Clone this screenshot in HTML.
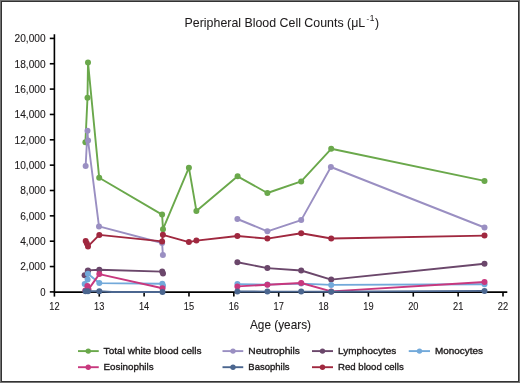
<!DOCTYPE html>
<html><head><meta charset="utf-8"><style>
html,body{margin:0;padding:0;background:#fff;}
body{width:520px;height:383px;overflow:hidden;}
svg{display:block;will-change:transform;}
text{font-family:"Liberation Sans",sans-serif;fill:#1e1b1c;stroke:#1e1b1c;stroke-width:0.35px;}
</style></head><body>
<svg width="520" height="383" viewBox="0 0 520 383">
<rect x="0" y="0" width="520" height="383" fill="#fff"/>

<rect x="0.5" y="0.5" width="519" height="382" fill="none" stroke="#737373" stroke-width="1"/>
<rect x="1.5" y="1.5" width="517" height="380" fill="none" stroke="#333" stroke-width="1"/>
<text x="184.6" y="27" font-size="12.2" style="stroke-width:0.05px" textLength="180.6" lengthAdjust="spacingAndGlyphs">Peripheral Blood Cell Counts (&#956;L</text>
<text x="366.4" y="21.3" font-size="8" style="stroke-width:0.05px">-</text>
<text x="369.8" y="21.4" font-size="8.4" style="stroke-width:0.05px">1</text>
<text x="375.0" y="27" font-size="12.2" style="stroke-width:0.05px">)</text>
<g stroke="#000" stroke-width="1.6" fill="none"><line x1="54.4" y1="34.3" x2="54.4" y2="292.8" /><line x1="54.4" y1="292.1" x2="507.3" y2="292.1" /><line x1="49.8" y1="291.90" x2="54.4" y2="291.90" /><line x1="49.8" y1="266.55" x2="54.4" y2="266.55" /><line x1="49.8" y1="241.20" x2="54.4" y2="241.20" /><line x1="49.8" y1="215.85" x2="54.4" y2="215.85" /><line x1="49.8" y1="190.50" x2="54.4" y2="190.50" /><line x1="49.8" y1="165.15" x2="54.4" y2="165.15" /><line x1="49.8" y1="139.80" x2="54.4" y2="139.80" /><line x1="49.8" y1="114.45" x2="54.4" y2="114.45" /><line x1="49.8" y1="89.10" x2="54.4" y2="89.10" /><line x1="49.8" y1="63.75" x2="54.4" y2="63.75" /><line x1="49.8" y1="38.40" x2="54.4" y2="38.40" /><line x1="54.40" y1="292.1" x2="54.40" y2="296.6" /><line x1="99.26" y1="292.1" x2="99.26" y2="296.6" /><line x1="144.12" y1="292.1" x2="144.12" y2="296.6" /><line x1="188.98" y1="292.1" x2="188.98" y2="296.6" /><line x1="233.84" y1="292.1" x2="233.84" y2="296.6" /><line x1="278.70" y1="292.1" x2="278.70" y2="296.6" /><line x1="323.56" y1="292.1" x2="323.56" y2="296.6" /><line x1="368.42" y1="292.1" x2="368.42" y2="296.6" /><line x1="413.28" y1="292.1" x2="413.28" y2="296.6" /><line x1="458.14" y1="292.1" x2="458.14" y2="296.6" /><line x1="503.00" y1="292.1" x2="503.00" y2="296.6" /></g>
<text x="40.30" y="295.80" font-size="10.9" textLength="5.3" lengthAdjust="spacingAndGlyphs" style="stroke-width:0.12px">0</text><text x="20.20" y="270.45" font-size="10.9" textLength="25.4" lengthAdjust="spacingAndGlyphs" style="stroke-width:0.12px">2,000</text><text x="20.20" y="245.10" font-size="10.9" textLength="25.4" lengthAdjust="spacingAndGlyphs" style="stroke-width:0.12px">4,000</text><text x="20.20" y="219.75" font-size="10.9" textLength="25.4" lengthAdjust="spacingAndGlyphs" style="stroke-width:0.12px">6,000</text><text x="20.20" y="194.40" font-size="10.9" textLength="25.4" lengthAdjust="spacingAndGlyphs" style="stroke-width:0.12px">8,000</text><text x="14.60" y="169.05" font-size="10.9" textLength="31.0" lengthAdjust="spacingAndGlyphs" style="stroke-width:0.12px">10,000</text><text x="14.60" y="143.70" font-size="10.9" textLength="31.0" lengthAdjust="spacingAndGlyphs" style="stroke-width:0.12px">12,000</text><text x="14.60" y="118.35" font-size="10.9" textLength="31.0" lengthAdjust="spacingAndGlyphs" style="stroke-width:0.12px">14,000</text><text x="14.60" y="93.00" font-size="10.9" textLength="31.0" lengthAdjust="spacingAndGlyphs" style="stroke-width:0.12px">16,000</text><text x="14.60" y="67.65" font-size="10.9" textLength="31.0" lengthAdjust="spacingAndGlyphs" style="stroke-width:0.12px">18,000</text><text x="14.60" y="42.30" font-size="10.9" textLength="31.0" lengthAdjust="spacingAndGlyphs" style="stroke-width:0.12px">20,000</text>
<text x="49.25" y="310.4" font-size="11" textLength="10.3" lengthAdjust="spacingAndGlyphs" style="stroke-width:0.12px">12</text><text x="94.11" y="310.4" font-size="11" textLength="10.3" lengthAdjust="spacingAndGlyphs" style="stroke-width:0.12px">13</text><text x="138.97" y="310.4" font-size="11" textLength="10.3" lengthAdjust="spacingAndGlyphs" style="stroke-width:0.12px">14</text><text x="183.83" y="310.4" font-size="11" textLength="10.3" lengthAdjust="spacingAndGlyphs" style="stroke-width:0.12px">15</text><text x="228.69" y="310.4" font-size="11" textLength="10.3" lengthAdjust="spacingAndGlyphs" style="stroke-width:0.12px">16</text><text x="273.55" y="310.4" font-size="11" textLength="10.3" lengthAdjust="spacingAndGlyphs" style="stroke-width:0.12px">17</text><text x="318.41" y="310.4" font-size="11" textLength="10.3" lengthAdjust="spacingAndGlyphs" style="stroke-width:0.12px">18</text><text x="363.27" y="310.4" font-size="11" textLength="10.3" lengthAdjust="spacingAndGlyphs" style="stroke-width:0.12px">19</text><text x="408.13" y="310.4" font-size="11" textLength="10.3" lengthAdjust="spacingAndGlyphs" style="stroke-width:0.12px">20</text><text x="452.99" y="310.4" font-size="11" textLength="10.3" lengthAdjust="spacingAndGlyphs" style="stroke-width:0.12px">21</text><text x="497.85" y="310.4" font-size="11" textLength="10.3" lengthAdjust="spacingAndGlyphs" style="stroke-width:0.12px">22</text>
<text x="250" y="329" font-size="12.1" style="stroke-width:0.1px" textLength="61" lengthAdjust="spacingAndGlyphs">Age (years)</text>
<g stroke="#6aa84b" fill="#6aa84b" stroke-width="1.9" stroke-linejoin="round" stroke-linecap="round"><polyline points="85.40,142.20 87.50,97.80 88.00,62.40 99.20,177.80 162.10,214.60 163.00,229.20 188.90,167.70 196.40,210.90 237.60,176.30 267.40,193.00 301.20,181.40 331.20,148.80 484.50,180.90" fill="none"/><circle cx="85.40" cy="142.20" r="3.0" stroke="none"/><circle cx="87.50" cy="97.80" r="3.0" stroke="none"/><circle cx="88.00" cy="62.40" r="3.0" stroke="none"/><circle cx="99.20" cy="177.80" r="3.0" stroke="none"/><circle cx="162.10" cy="214.60" r="3.0" stroke="none"/><circle cx="163.00" cy="229.20" r="3.0" stroke="none"/><circle cx="188.90" cy="167.70" r="3.0" stroke="none"/><circle cx="196.40" cy="210.90" r="3.0" stroke="none"/><circle cx="237.60" cy="176.30" r="3.0" stroke="none"/><circle cx="267.40" cy="193.00" r="3.0" stroke="none"/><circle cx="301.20" cy="181.40" r="3.0" stroke="none"/><circle cx="331.20" cy="148.80" r="3.0" stroke="none"/><circle cx="484.50" cy="180.90" r="3.0" stroke="none"/></g>
<g stroke="#9a8fc2" fill="#9a8fc2" stroke-width="1.9" stroke-linejoin="round" stroke-linecap="round"><polyline points="85.65,166.00 87.50,130.70 88.05,140.50 99.00,226.40 162.10,243.00 162.90,255.10" fill="none"/><polyline points="237.40,219.00 267.40,231.30 301.20,220.10 330.90,167.00 484.50,227.50" fill="none"/><circle cx="85.65" cy="166.00" r="3.0" stroke="none"/><circle cx="87.50" cy="130.70" r="3.0" stroke="none"/><circle cx="88.05" cy="140.50" r="3.0" stroke="none"/><circle cx="99.00" cy="226.40" r="3.0" stroke="none"/><circle cx="162.10" cy="243.00" r="3.0" stroke="none"/><circle cx="162.90" cy="255.10" r="3.0" stroke="none"/><circle cx="237.40" cy="219.00" r="3.0" stroke="none"/><circle cx="267.40" cy="231.30" r="3.0" stroke="none"/><circle cx="301.20" cy="220.10" r="3.0" stroke="none"/><circle cx="330.90" cy="167.00" r="3.0" stroke="none"/><circle cx="484.50" cy="227.50" r="3.0" stroke="none"/></g>
<g stroke="#6b476b" fill="#6b476b" stroke-width="1.9" stroke-linejoin="round" stroke-linecap="round"><polyline points="84.60,275.30 87.75,271.00 88.00,270.40 99.30,269.70 162.20,271.60 163.00,273.40" fill="none"/><polyline points="237.40,262.30 267.40,268.10 301.20,270.50 331.20,279.60 484.50,263.80" fill="none"/><circle cx="84.60" cy="275.30" r="3.0" stroke="none"/><circle cx="87.75" cy="271.00" r="3.0" stroke="none"/><circle cx="88.00" cy="270.40" r="3.0" stroke="none"/><circle cx="99.30" cy="269.70" r="3.0" stroke="none"/><circle cx="162.20" cy="271.60" r="3.0" stroke="none"/><circle cx="163.00" cy="273.40" r="3.0" stroke="none"/><circle cx="237.40" cy="262.30" r="3.0" stroke="none"/><circle cx="267.40" cy="268.10" r="3.0" stroke="none"/><circle cx="301.20" cy="270.50" r="3.0" stroke="none"/><circle cx="331.20" cy="279.60" r="3.0" stroke="none"/><circle cx="484.50" cy="263.80" r="3.0" stroke="none"/></g>
<g stroke="#72a9da" fill="#72a9da" stroke-width="1.9" stroke-linejoin="round" stroke-linecap="round"><polyline points="84.70,284.00 87.60,279.50 87.90,273.80 99.30,283.10 162.30,283.70 163.00,285.80" fill="none"/><polyline points="237.40,284.10 267.40,284.60 301.20,283.60 331.20,284.90 484.50,284.30" fill="none"/><circle cx="84.70" cy="284.00" r="3.0" stroke="none"/><circle cx="87.60" cy="279.50" r="3.0" stroke="none"/><circle cx="87.90" cy="273.80" r="3.0" stroke="none"/><circle cx="99.30" cy="283.10" r="3.0" stroke="none"/><circle cx="162.30" cy="283.70" r="3.0" stroke="none"/><circle cx="163.00" cy="285.80" r="3.0" stroke="none"/><circle cx="237.40" cy="284.10" r="3.0" stroke="none"/><circle cx="267.40" cy="284.60" r="3.0" stroke="none"/><circle cx="301.20" cy="283.60" r="3.0" stroke="none"/><circle cx="331.20" cy="284.90" r="3.0" stroke="none"/><circle cx="484.50" cy="284.30" r="3.0" stroke="none"/></g>
<g stroke="#c8387e" fill="#c8387e" stroke-width="1.9" stroke-linejoin="round" stroke-linecap="round"><polyline points="85.30,290.50 87.40,286.00 88.50,289.40 99.30,274.10 162.50,288.30" fill="none"/><polyline points="237.40,286.40 267.40,284.80 301.20,283.00 331.20,291.40 484.50,282.00" fill="none"/><circle cx="85.30" cy="290.50" r="3.0" stroke="none"/><circle cx="87.40" cy="286.00" r="3.0" stroke="none"/><circle cx="88.50" cy="289.40" r="3.0" stroke="none"/><circle cx="99.30" cy="274.10" r="3.0" stroke="none"/><circle cx="162.50" cy="288.30" r="3.0" stroke="none"/><circle cx="237.40" cy="286.40" r="3.0" stroke="none"/><circle cx="267.40" cy="284.80" r="3.0" stroke="none"/><circle cx="301.20" cy="283.00" r="3.0" stroke="none"/><circle cx="331.20" cy="291.40" r="3.0" stroke="none"/><circle cx="484.50" cy="282.00" r="3.0" stroke="none"/></g>
<g stroke="#4b668f" fill="#4b668f" stroke-width="1.9" stroke-linejoin="round" stroke-linecap="round"><polyline points="85.50,291.30 88.00,291.30 99.30,291.20 112.00,292.00 162.50,292.00" fill="none"/><polyline points="237.40,291.50 267.40,291.60 301.20,291.60 331.20,291.70 484.50,290.90" fill="none"/><circle cx="85.50" cy="291.30" r="3.0" stroke="none"/><circle cx="88.00" cy="291.30" r="3.0" stroke="none"/><circle cx="99.30" cy="291.20" r="3.0" stroke="none"/><circle cx="162.50" cy="292.00" r="3.0" stroke="none"/><circle cx="237.40" cy="291.50" r="3.0" stroke="none"/><circle cx="267.40" cy="291.60" r="3.0" stroke="none"/><circle cx="301.20" cy="291.60" r="3.0" stroke="none"/><circle cx="331.20" cy="291.70" r="3.0" stroke="none"/><circle cx="484.50" cy="290.90" r="3.0" stroke="none"/></g>
<g stroke="#a0283f" fill="#a0283f" stroke-width="1.9" stroke-linejoin="round" stroke-linecap="round"><polyline points="85.70,240.90 86.90,243.60 88.00,246.40 99.30,234.90 162.10,241.40 162.90,234.80 188.90,242.10 196.40,240.60 237.40,236.00 267.40,238.60 301.20,233.20 331.20,238.50 484.50,235.60" fill="none"/><circle cx="85.70" cy="240.90" r="3.0" stroke="none"/><circle cx="86.90" cy="243.60" r="3.0" stroke="none"/><circle cx="88.00" cy="246.40" r="3.0" stroke="none"/><circle cx="99.30" cy="234.90" r="3.0" stroke="none"/><circle cx="162.10" cy="241.40" r="3.0" stroke="none"/><circle cx="162.90" cy="234.80" r="3.0" stroke="none"/><circle cx="188.90" cy="242.10" r="3.0" stroke="none"/><circle cx="196.40" cy="240.60" r="3.0" stroke="none"/><circle cx="237.40" cy="236.00" r="3.0" stroke="none"/><circle cx="267.40" cy="238.60" r="3.0" stroke="none"/><circle cx="301.20" cy="233.20" r="3.0" stroke="none"/><circle cx="331.20" cy="238.50" r="3.0" stroke="none"/><circle cx="484.50" cy="235.60" r="3.0" stroke="none"/></g>
<line x1="78" y1="351.1" x2="98.75" y2="351.1" stroke="#6aa84b" stroke-width="1.9"/>
<circle cx="88.25" cy="351.1" r="2.7" fill="#6aa84b"/>
<text x="103.6" y="354.0" font-size="9.7" textLength="98" lengthAdjust="spacingAndGlyphs">Total white blood cells</text>
<line x1="222.5" y1="351.1" x2="243.25" y2="351.1" stroke="#9a8fc2" stroke-width="1.9"/>
<circle cx="233" cy="351.1" r="2.7" fill="#9a8fc2"/>
<text x="248.3" y="354.0" font-size="9.7" textLength="51.7" lengthAdjust="spacingAndGlyphs">Neutrophils</text>
<line x1="312" y1="351.1" x2="333" y2="351.1" stroke="#6b476b" stroke-width="1.9"/>
<circle cx="322.5" cy="351.1" r="2.7" fill="#6b476b"/>
<text x="338" y="354.0" font-size="9.7" textLength="58.2" lengthAdjust="spacingAndGlyphs">Lymphocytes</text>
<line x1="408.75" y1="351.1" x2="430" y2="351.1" stroke="#72a9da" stroke-width="1.9"/>
<circle cx="419.5" cy="351.1" r="2.7" fill="#72a9da"/>
<text x="435" y="354.0" font-size="9.7" textLength="48" lengthAdjust="spacingAndGlyphs">Monocytes</text>
<line x1="78" y1="367.2" x2="98.75" y2="367.2" stroke="#c8387e" stroke-width="1.9"/>
<circle cx="88.25" cy="367.2" r="2.7" fill="#c8387e"/>
<text x="103.6" y="370.0" font-size="9.7" textLength="50" lengthAdjust="spacingAndGlyphs">Eosinophils</text>
<line x1="222.5" y1="367.2" x2="243.25" y2="367.2" stroke="#4b668f" stroke-width="1.9"/>
<circle cx="233" cy="367.2" r="2.7" fill="#4b668f"/>
<text x="248.3" y="370.0" font-size="9.7" textLength="41.2" lengthAdjust="spacingAndGlyphs">Basophils</text>
<line x1="312" y1="367.2" x2="333" y2="367.2" stroke="#a0283f" stroke-width="1.9"/>
<circle cx="322.5" cy="367.2" r="2.7" fill="#a0283f"/>
<text x="338" y="370.0" font-size="9.7" textLength="65.7" lengthAdjust="spacingAndGlyphs">Red blood cells</text>
</svg></body></html>
